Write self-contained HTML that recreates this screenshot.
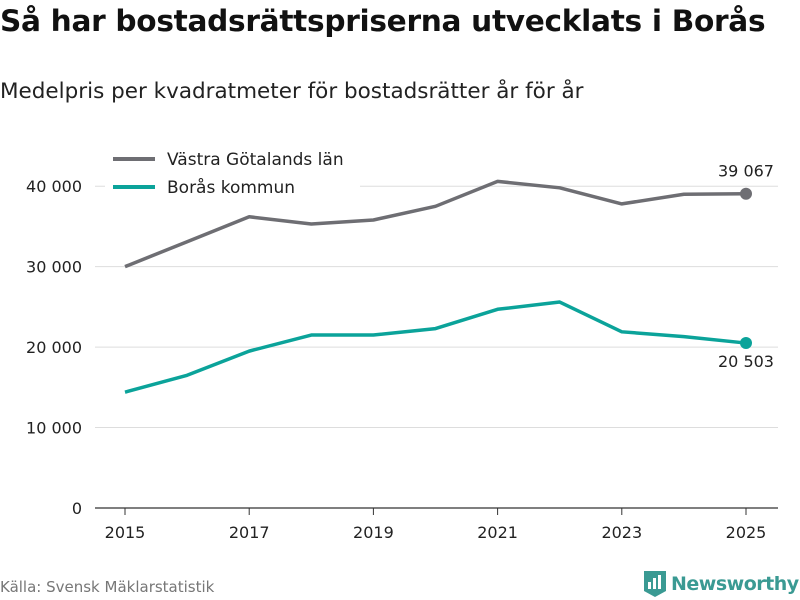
<!DOCTYPE html>
<html><head><meta charset="utf-8"><style>
body{margin:0;width:800px;height:600px;background:#fff;font-family:"DejaVu Sans","Liberation Sans",sans-serif;overflow:hidden;position:relative}
.t{position:absolute;left:0;top:4px;font-size:29.6px;font-weight:bold;color:#111;white-space:nowrap;letter-spacing:-0.3px}
.s{position:absolute;left:0;top:79px;font-size:21.5px;color:#222;white-space:nowrap}
.src{position:absolute;left:0;top:578px;font-size:15px;color:#777}
.logo{position:absolute;left:643px;top:570px;font-size:19px;font-weight:bold;color:#3a9a93;display:flex;align-items:center;gap:4px;letter-spacing:-0.5px;white-space:nowrap}
</style></head><body>
<div class="t">Så har bostadsrättspriserna utvecklats i Borås</div>
<div class="s">Medelpris per kvadratmeter för bostadsrätter år för år</div>
<svg id="c" width="800" height="600" style="position:absolute;left:0;top:0"></svg>
<div class="src">Källa: Svensk Mäklarstatistik</div>
<div class="logo"><svg width="24" height="28"><path d="M1 1h22v20l-11 6-11-6z" fill="#3a9a93"/><rect x="5" y="12" width="3" height="7" fill="#fff"/><rect x="10" y="8" width="3" height="11" fill="#fff"/><rect x="15" y="5" width="3" height="14" fill="#fff"/></svg>Newsworthy</div>
<script>
const years=[2015,2016,2017,2018,2019,2020,2021,2022,2023,2024,2025];
const vastra=[30000,33100,36200,35300,35800,37500,40600,39800,37800,39000,39067];
const boras=[14400,16500,19500,21500,21500,22300,24700,25600,21900,21300,20503];
const yTicks=[0,10000,20000,30000,40000];
const xTicks=[2015,2017,2019,2021,2023,2025];
const NS="http://www.w3.org/2000/svg";
const svg=document.getElementById('c');
const X=y=>125+(y-2015)*62.1;
const Y=v=>508-v*0.008045;
function el(t,a,txt){const e=document.createElementNS(NS,t);for(const k in a)e.setAttribute(k,a[k]);if(txt!==undefined)e.textContent=txt;svg.appendChild(e);return e;}
const fmt=v=>v===0?"0":String(v).replace(/\B(?=(\d{3})+(?!\d))/g," ");
yTicks.forEach(v=>{
 const g=el('line',{x1:95,x2:778,y1:Y(v),y2:Y(v),stroke:v===0?'#333':'#ddd','stroke-width':v===0?1.2:1});
 
 
 const t=el('text',{x:82,y:Y(v)+6,'text-anchor':'end','font-size':16,fill:'#222'},fmt(v));
 
 
});
xTicks.forEach(y=>{
 const l=el('line',{x1:X(y),x2:X(y),y1:508,y2:515,stroke:'#333'});
 
 
 const t=el('text',{x:X(y),y:538,'text-anchor':'middle','font-size':16,fill:'#222'},y);
 
 
});
function series(vals,col,name){
 const p=el('polyline',{points:vals.map((v,i)=>X(years[i])+','+Y(v)).join(' '),fill:'none',stroke:col,'stroke-width':3.5,'stroke-linejoin':'round'});
 
 
 const n=vals.length-1;
 const c=el('circle',{cx:X(years[n]),cy:Y(vals[n]),r:6,fill:col});
 
 
}
series(vastra,'#6e6e73','vastra-gotaland');
series(boras,'#0ba39a','boras');
let t1=el('text',{x:746,y:Y(vastra[10])-17,'text-anchor':'middle','font-size':16,fill:'#222'},fmt(vastra[10]));


let t2=el('text',{x:746,y:Y(boras[10])+24,'text-anchor':'middle','font-size':16,fill:'#222'},fmt(boras[10]));


el('rect',{x:105,y:143,width:255,height:60,fill:'#fff'});
[['Västra Götalands län','#6e6e73',159],['Borås kommun','#0ba39a',187]].forEach(([n,c,y])=>{
 const l=el('line',{x1:113,x2:155,y1:y,y2:y,stroke:c,'stroke-width':4});
 
 
 const t=el('text',{x:167,y:y+6,'font-size':17,fill:'#222'},n);
 
 
});
</script>
</body></html>
